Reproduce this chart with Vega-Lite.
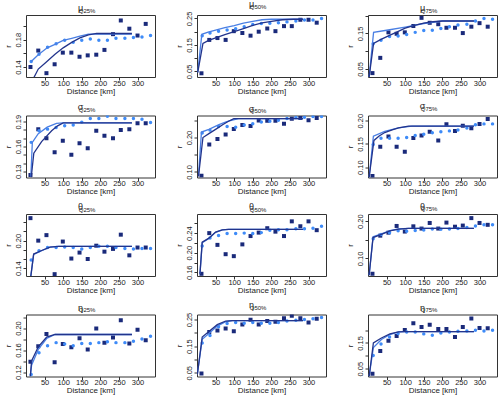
{
"$schema":"https://vega.github.io/schema/vega-lite/v6.json",
"background":"white",
"padding":{"left":3,"top":-1,"right":0,"bottom":0},
"columns":3,
"spacing":{"row":5.5,"column":18},
"config":{
 "font":"Liberation Sans",
 "view":{"stroke":"#333","strokeWidth":1},
 "axis":{"grid":false,"domain":false,"tickSize":3,"tickColor":"#333","labelFontSize":7.5,"labelColor":"#222","titleFontSize":8,"titleFontWeight":"normal","titleColor":"#222","labelPadding":1,"labelFlush":false,"labelOverlap":false},
 "axisX":{"titlePadding":0.5,"labelPadding":-1},
 "axisY":{"labelAngle":-90,"labelAlign":"center","labelBaseline":"bottom","minExtent":12,"maxExtent":12,"titlePadding":2},
 "title":{"font":"Liberation Sans","fontSize":9,"fontWeight":"normal","color":"#222","subtitleFont":"Liberation Sans","subtitleFontSize":6,"subtitleColor":"#222","subtitlePadding":-5.5,"offset":1.5,"anchor":"middle","align":"left","dx":-10,"frame":"group"}
},
"concat":[
{"width":129,"height":62,
"title":{"text":"μ","subtitle":"Q25%","encode":{"subtitle":{"update":{"dx":{"value":-3.4}}}}},
"data":{"values":[
{"k":"sq","d":12,"r":0.140},{"k":"sq","d":33,"r":0.164},{"k":"sq","d":55,"r":0.131},{"k":"sq","d":77,"r":0.144},{"k":"sq","d":99,"r":0.161},{"k":"sq","d":122,"r":0.161},{"k":"sq","d":144,"r":0.155},{"k":"sq","d":166,"r":0.157},{"k":"sq","d":189,"r":0.158},{"k":"sq","d":211,"r":0.165},{"k":"sq","d":234,"r":0.188},{"k":"sq","d":255,"r":0.208},{"k":"sq","d":278,"r":0.196},{"k":"sq","d":300,"r":0.186},{"k":"sq","d":322,"r":0.203},
{"k":"ci","d":14,"r":0.148},{"k":"ci","d":35,"r":0.1585},{"k":"ci","d":58,"r":0.169},{"k":"ci","d":81,"r":0.174},{"k":"ci","d":104,"r":0.179},{"k":"ci","d":127,"r":0.176},{"k":"ci","d":150,"r":0.179},{"k":"ci","d":173,"r":0.181},{"k":"ci","d":196,"r":0.179},{"k":"ci","d":219,"r":0.179},{"k":"ci","d":242,"r":0.182},{"k":"ci","d":266,"r":0.182},{"k":"ci","d":289,"r":0.183},{"k":"ci","d":312,"r":0.184},{"k":"ci","d":335,"r":0.186},
{"k":"lb","d":14,"r":0.148},{"k":"lb","d":33,"r":0.158},{"k":"lb","d":57,"r":0.168},{"k":"lb","d":78,"r":0.173},{"k":"lb","d":100,"r":0.179},{"k":"lb","d":123,"r":0.182},{"k":"lb","d":145,"r":0.185},{"k":"lb","d":168,"r":0.188},{"k":"lb","d":190,"r":0.188},{"k":"lb","d":285,"r":0.188},
{"k":"la","d":15,"r":0.118},{"k":"la","d":33,"r":0.137},{"k":"la","d":54,"r":0.147},{"k":"la","d":78,"r":0.1585},{"k":"la","d":100,"r":0.168},{"k":"la","d":123,"r":0.176},{"k":"la","d":145,"r":0.1825},{"k":"la","d":168,"r":0.187},{"k":"la","d":190,"r":0.189},{"k":"la","d":285,"r":0.189}
]},
"encoding":{"x":{"field":"d","type":"quantitative","scale":{"domain":[0,347],"nice":false},"axis":{"values":[50,100,150,200,250,300],"title":"Distance [km]"}},
"y":{"field":"r","type":"quantitative","scale":{"domain":[0.1254,0.216],"nice":false,"zero":false},"axis":{"values":[0.14,0.16,0.18,0.2],"format":".2f","labelExpr":"indexof([0.14,0.18],datum.value)>=0?datum.label:''","title":"r"}}},
"layer":[
{"transform":[{"filter":"datum.k=='sq'"}],"mark":{"type":"square","color":"#1A2A7A","size":16,"opacity":1,"clip":true}},
{"transform":[{"filter":"datum.k=='ci'"}],"mark":{"type":"circle","color":"#3E8BF8","size":12,"opacity":1,"clip":true}},
{"transform":[{"filter":"datum.k=='lb'"}],"mark":{"type":"line","color":"#4A7FE3","strokeWidth":1.3,"clip":true},"encoding":{}},
{"transform":[{"filter":"datum.k=='la'"}],"mark":{"type":"line","color":"#22348C","strokeWidth":1.3,"clip":true},"encoding":{}}
]},
{"width":129,"height":62,
"title":{"text":"μ","subtitle":"Q50%","encode":{"subtitle":{"update":{"dx":{"value":-3.4}}}}},
"data":{"values":[
{"k":"sq","d":12,"r":0.043},{"k":"sq","d":33,"r":0.169},{"k":"sq","d":55,"r":0.176},{"k":"sq","d":77,"r":0.169},{"k":"sq","d":99,"r":0.202},{"k":"sq","d":122,"r":0.195},{"k":"sq","d":144,"r":0.185},{"k":"sq","d":166,"r":0.2},{"k":"sq","d":189,"r":0.212},{"k":"sq","d":211,"r":0.202},{"k":"sq","d":234,"r":0.221},{"k":"sq","d":255,"r":0.221},{"k":"sq","d":278,"r":0.245},{"k":"sq","d":300,"r":0.245},{"k":"sq","d":322,"r":0.234},
{"k":"ci","d":14,"r":0.185},{"k":"ci","d":35,"r":0.195},{"k":"ci","d":58,"r":0.202},{"k":"ci","d":81,"r":0.206},{"k":"ci","d":104,"r":0.211},{"k":"ci","d":127,"r":0.219},{"k":"ci","d":150,"r":0.227},{"k":"ci","d":173,"r":0.231},{"k":"ci","d":196,"r":0.232},{"k":"ci","d":219,"r":0.234},{"k":"ci","d":242,"r":0.237},{"k":"ci","d":266,"r":0.24},{"k":"ci","d":289,"r":0.244},{"k":"ci","d":312,"r":0.244},{"k":"ci","d":335,"r":0.25},
{"k":"lb","d":2,"r":0.046},{"k":"lb","d":13,"r":0.19},{"k":"lb","d":30,"r":0.198},{"k":"lb","d":50,"r":0.206},{"k":"lb","d":75,"r":0.215},{"k":"lb","d":100,"r":0.223},{"k":"lb","d":125,"r":0.232},{"k":"lb","d":150,"r":0.239},{"k":"lb","d":175,"r":0.245},{"k":"lb","d":200,"r":0.247},{"k":"lb","d":285,"r":0.247},
{"k":"la","d":2,"r":0.046},{"k":"la","d":16,"r":0.156},{"k":"la","d":30,"r":0.166},{"k":"la","d":50,"r":0.177},{"k":"la","d":75,"r":0.189},{"k":"la","d":100,"r":0.2},{"k":"la","d":125,"r":0.212},{"k":"la","d":150,"r":0.224},{"k":"la","d":175,"r":0.233},{"k":"la","d":200,"r":0.239},{"k":"la","d":230,"r":0.245},{"k":"la","d":260,"r":0.247},{"k":"la","d":285,"r":0.247}
]},
"encoding":{"x":{"field":"d","type":"quantitative","scale":{"domain":[0,347],"nice":false},"axis":{"values":[50,100,150,200,250,300],"title":"Distance [km]"}},
"y":{"field":"r","type":"quantitative","scale":{"domain":[0.029,0.263],"nice":false,"zero":false},"axis":{"values":[0.05,0.1,0.15,0.2,0.25],"format":".2f","labelExpr":"indexof([0.05,0.15,0.25],datum.value)>=0?datum.label:''","title":"r"}}},
"layer":[
{"transform":[{"filter":"datum.k=='sq'"}],"mark":{"type":"square","color":"#1A2A7A","size":16,"opacity":1,"clip":true}},
{"transform":[{"filter":"datum.k=='ci'"}],"mark":{"type":"circle","color":"#3E8BF8","size":12,"opacity":1,"clip":true}},
{"transform":[{"filter":"datum.k=='lb'"}],"mark":{"type":"line","color":"#4A7FE3","strokeWidth":1.3,"clip":true},"encoding":{}},
{"transform":[{"filter":"datum.k=='la'"}],"mark":{"type":"line","color":"#22348C","strokeWidth":1.3,"clip":true},"encoding":{}}
]},
{"width":129,"height":62,
"title":{"text":"μ","subtitle":"Q75%","encode":{"subtitle":{"update":{"dx":{"value":-3.4}}}}},
"data":{"values":[
{"k":"sq","d":12,"r":0.038},{"k":"sq","d":33,"r":0.081},{"k":"sq","d":55,"r":0.153},{"k":"sq","d":77,"r":0.149},{"k":"sq","d":99,"r":0.153},{"k":"sq","d":122,"r":0.171},{"k":"sq","d":144,"r":0.194},{"k":"sq","d":166,"r":0.18},{"k":"sq","d":189,"r":0.176},{"k":"sq","d":211,"r":0.166},{"k":"sq","d":234,"r":0.166},{"k":"sq","d":255,"r":0.151},{"k":"sq","d":278,"r":0.169},{"k":"sq","d":300,"r":0.179},{"k":"sq","d":322,"r":0.169},
{"k":"ci","d":14,"r":0.121},{"k":"ci","d":35,"r":0.131},{"k":"ci","d":58,"r":0.141},{"k":"ci","d":81,"r":0.143},{"k":"ci","d":104,"r":0.147},{"k":"ci","d":127,"r":0.153},{"k":"ci","d":150,"r":0.158},{"k":"ci","d":173,"r":0.159},{"k":"ci","d":196,"r":0.164},{"k":"ci","d":219,"r":0.169},{"k":"ci","d":242,"r":0.174},{"k":"ci","d":266,"r":0.176},{"k":"ci","d":289,"r":0.185},{"k":"ci","d":312,"r":0.192},{"k":"ci","d":335,"r":0.19},
{"k":"lb","d":3,"r":0.027},{"k":"lb","d":15,"r":0.153},{"k":"lb","d":50,"r":0.159},{"k":"lb","d":100,"r":0.168},{"k":"lb","d":150,"r":0.178},{"k":"lb","d":200,"r":0.185},{"k":"lb","d":285,"r":0.185},
{"k":"la","d":3,"r":0.027},{"k":"la","d":15,"r":0.122},{"k":"la","d":35,"r":0.133},{"k":"la","d":55,"r":0.143},{"k":"la","d":80,"r":0.155},{"k":"la","d":100,"r":0.165},{"k":"la","d":125,"r":0.173},{"k":"la","d":150,"r":0.179},{"k":"la","d":175,"r":0.183},{"k":"la","d":200,"r":0.185},{"k":"la","d":285,"r":0.185}
]},
"encoding":{"x":{"field":"d","type":"quantitative","scale":{"domain":[0,347],"nice":false},"axis":{"values":[50,100,150,200,250,300],"title":"Distance [km]"}},
"y":{"field":"r","type":"quantitative","scale":{"domain":[0.027,0.202],"nice":false,"zero":false},"axis":{"values":[0.05,0.1,0.15,0.2],"format":".2f","labelExpr":"indexof([0.05,0.15],datum.value)>=0?datum.label:''","title":"r"}}},
"layer":[
{"transform":[{"filter":"datum.k=='sq'"}],"mark":{"type":"square","color":"#1A2A7A","size":16,"opacity":1,"clip":true}},
{"transform":[{"filter":"datum.k=='ci'"}],"mark":{"type":"circle","color":"#3E8BF8","size":12,"opacity":1,"clip":true}},
{"transform":[{"filter":"datum.k=='lb'"}],"mark":{"type":"line","color":"#4A7FE3","strokeWidth":1.3,"clip":true},"encoding":{}},
{"transform":[{"filter":"datum.k=='la'"}],"mark":{"type":"line","color":"#22348C","strokeWidth":1.3,"clip":true},"encoding":{}}
]},
{"width":129,"height":62,
"title":{"text":"σ","subtitle":"Q25%","encode":{"subtitle":{"update":{"dx":{"value":-3.4}}}}},
"data":{"values":[
{"k":"sq","d":12,"r":0.1256},{"k":"sq","d":33,"r":0.181},{"k":"sq","d":55,"r":0.170},{"k":"sq","d":77,"r":0.153},{"k":"sq","d":99,"r":0.167},{"k":"sq","d":122,"r":0.150},{"k":"sq","d":144,"r":0.164},{"k":"sq","d":166,"r":0.158},{"k":"sq","d":189,"r":0.179},{"k":"sq","d":211,"r":0.173},{"k":"sq","d":234,"r":0.170},{"k":"sq","d":255,"r":0.180},{"k":"sq","d":278,"r":0.181},{"k":"sq","d":300,"r":0.188},{"k":"sq","d":322,"r":0.188},
{"k":"ci","d":14,"r":0.165},{"k":"ci","d":35,"r":0.179},{"k":"ci","d":58,"r":0.181},{"k":"ci","d":81,"r":0.183},{"k":"ci","d":104,"r":0.185},{"k":"ci","d":127,"r":0.186},{"k":"ci","d":150,"r":0.1895},{"k":"ci","d":173,"r":0.194},{"k":"ci","d":196,"r":0.194},{"k":"ci","d":219,"r":0.1965},{"k":"ci","d":242,"r":0.194},{"k":"ci","d":266,"r":0.194},{"k":"ci","d":289,"r":0.194},{"k":"ci","d":312,"r":0.193},{"k":"ci","d":335,"r":0.189},
{"k":"lb","d":13,"r":0.1235},{"k":"lb","d":17,"r":0.165},{"k":"lb","d":33,"r":0.1755},{"k":"lb","d":57,"r":0.1834},{"k":"lb","d":82,"r":0.188},{"k":"lb","d":100,"r":0.1886},{"k":"lb","d":285,"r":0.1886},
{"k":"la","d":14,"r":0.1225},{"k":"la","d":21,"r":0.152},{"k":"la","d":42,"r":0.166},{"k":"la","d":69,"r":0.179},{"k":"la","d":85,"r":0.185},{"k":"la","d":100,"r":0.1886},{"k":"la","d":285,"r":0.1886}
]},
"encoding":{"x":{"field":"d","type":"quantitative","scale":{"domain":[0,347],"nice":false},"axis":{"values":[50,100,150,200,250,300],"title":"Distance [km]"}},
"y":{"field":"r","type":"quantitative","scale":{"domain":[0.1225,0.1975],"nice":false,"zero":false},"axis":{"values":[0.13,0.14,0.15,0.16,0.17,0.18,0.19],"format":".2f","labelExpr":"indexof([0.13,0.16,0.19],datum.value)>=0?datum.label:''","title":"r"}}},
"layer":[
{"transform":[{"filter":"datum.k=='sq'"}],"mark":{"type":"square","color":"#1A2A7A","size":16,"opacity":1,"clip":true}},
{"transform":[{"filter":"datum.k=='ci'"}],"mark":{"type":"circle","color":"#3E8BF8","size":12,"opacity":1,"clip":true}},
{"transform":[{"filter":"datum.k=='lb'"}],"mark":{"type":"line","color":"#4A7FE3","strokeWidth":1.3,"clip":true},"encoding":{}},
{"transform":[{"filter":"datum.k=='la'"}],"mark":{"type":"line","color":"#22348C","strokeWidth":1.3,"clip":true},"encoding":{}}
]},
{"width":129,"height":62,
"title":{"text":"σ","subtitle":"Q50%","encode":{"subtitle":{"update":{"dx":{"value":-3.4}}}}},
"data":{"values":[
{"k":"sq","d":12,"r":0.0892},{"k":"sq","d":33,"r":0.1796},{"k":"sq","d":55,"r":0.1957},{"k":"sq","d":77,"r":0.2086},{"k":"sq","d":99,"r":0.2247},{"k":"sq","d":122,"r":0.2366},{"k":"sq","d":144,"r":0.2333},{"k":"sq","d":166,"r":0.2495},{"k":"sq","d":189,"r":0.2484},{"k":"sq","d":211,"r":0.2484},{"k":"sq","d":234,"r":0.2398},{"k":"sq","d":255,"r":0.2548},{"k":"sq","d":278,"r":0.257},{"k":"sq","d":300,"r":0.2505},{"k":"sq","d":322,"r":0.257},
{"k":"ci","d":14,"r":0.213},{"k":"ci","d":35,"r":0.2215},{"k":"ci","d":58,"r":0.232},{"k":"ci","d":81,"r":0.232},{"k":"ci","d":104,"r":0.230},{"k":"ci","d":127,"r":0.2366},{"k":"ci","d":150,"r":0.24},{"k":"ci","d":173,"r":0.245},{"k":"ci","d":196,"r":0.2473},{"k":"ci","d":219,"r":0.2505},{"k":"ci","d":242,"r":0.255},{"k":"ci","d":266,"r":0.258},{"k":"ci","d":289,"r":0.259},{"k":"ci","d":312,"r":0.261},{"k":"ci","d":335,"r":0.261},
{"k":"lb","d":4,"r":0.089},{"k":"lb","d":12,"r":0.216},{"k":"lb","d":32,"r":0.2237},{"k":"lb","d":59,"r":0.2376},{"k":"lb","d":80,"r":0.246},{"k":"lb","d":95,"r":0.2505},{"k":"lb","d":112,"r":0.2548},{"k":"lb","d":285,"r":0.2548},
{"k":"la","d":4,"r":0.087},{"k":"la","d":16,"r":0.2},{"k":"la","d":33,"r":0.212},{"k":"la","d":50,"r":0.2237},{"k":"la","d":70,"r":0.238},{"k":"la","d":86,"r":0.248},{"k":"la","d":99,"r":0.2548},{"k":"la","d":285,"r":0.2548}
]},
"encoding":{"x":{"field":"d","type":"quantitative","scale":{"domain":[0,347],"nice":false},"axis":{"values":[50,100,150,200,250,300],"title":"Distance [km]"}},
"y":{"field":"r","type":"quantitative","scale":{"domain":[0.084,0.264],"nice":false,"zero":false},"axis":{"values":[0.1,0.15,0.2,0.25],"format":".2f","labelExpr":"indexof([0.1,0.2],datum.value)>=0?datum.label:''","title":"r"}}},
"layer":[
{"transform":[{"filter":"datum.k=='sq'"}],"mark":{"type":"square","color":"#1A2A7A","size":16,"opacity":1,"clip":true}},
{"transform":[{"filter":"datum.k=='ci'"}],"mark":{"type":"circle","color":"#3E8BF8","size":12,"opacity":1,"clip":true}},
{"transform":[{"filter":"datum.k=='lb'"}],"mark":{"type":"line","color":"#4A7FE3","strokeWidth":1.3,"clip":true},"encoding":{}},
{"transform":[{"filter":"datum.k=='la'"}],"mark":{"type":"line","color":"#22348C","strokeWidth":1.3,"clip":true},"encoding":{}}
]},
{"width":129,"height":62,
"title":{"text":"σ","subtitle":"Q75%","encode":{"subtitle":{"update":{"dx":{"value":-3.4}}}}},
"data":{"values":[
{"k":"sq","d":12,"r":0.0813},{"k":"sq","d":33,"r":0.1439},{"k":"sq","d":55,"r":0.166},{"k":"sq","d":77,"r":0.1439},{"k":"sq","d":99,"r":0.1332},{"k":"sq","d":122,"r":0.163},{"k":"sq","d":144,"r":0.1683},{"k":"sq","d":166,"r":0.176},{"k":"sq","d":189,"r":0.1576},{"k":"sq","d":211,"r":0.192},{"k":"sq","d":234,"r":0.178},{"k":"sq","d":255,"r":0.189},{"k":"sq","d":278,"r":0.1836},{"k":"sq","d":300,"r":0.1927},{"k":"sq","d":322,"r":0.2034},
{"k":"ci","d":14,"r":0.149},{"k":"ci","d":35,"r":0.162},{"k":"ci","d":58,"r":0.162},{"k":"ci","d":81,"r":0.162},{"k":"ci","d":104,"r":0.164},{"k":"ci","d":127,"r":0.168},{"k":"ci","d":150,"r":0.171},{"k":"ci","d":173,"r":0.174},{"k":"ci","d":196,"r":0.176},{"k":"ci","d":219,"r":0.178},{"k":"ci","d":242,"r":0.18},{"k":"ci","d":266,"r":0.184},{"k":"ci","d":289,"r":0.191},{"k":"ci","d":312,"r":0.193},{"k":"ci","d":335,"r":0.193},
{"k":"lb","d":3,"r":0.078},{"k":"lb","d":14.5,"r":0.1668},{"k":"lb","d":45,"r":0.1767},{"k":"lb","d":82,"r":0.1844},{"k":"lb","d":118,"r":0.1882},{"k":"lb","d":285,"r":0.1882},
{"k":"la","d":3,"r":0.078},{"k":"la","d":16,"r":0.1576},{"k":"la","d":30,"r":0.167},{"k":"la","d":45,"r":0.1744},{"k":"la","d":65,"r":0.18},{"k":"la","d":82,"r":0.1844},{"k":"la","d":109,"r":0.1882},{"k":"la","d":285,"r":0.1882}
]},
"encoding":{"x":{"field":"d","type":"quantitative","scale":{"domain":[0,347],"nice":false},"axis":{"values":[50,100,150,200,250,300],"title":"Distance [km]"}},
"y":{"field":"r","type":"quantitative","scale":{"domain":[0.078,0.211],"nice":false,"zero":false},"axis":{"values":[0.1,0.15,0.2],"format":".2f","title":"r"}}},
"layer":[
{"transform":[{"filter":"datum.k=='sq'"}],"mark":{"type":"square","color":"#1A2A7A","size":16,"opacity":1,"clip":true}},
{"transform":[{"filter":"datum.k=='ci'"}],"mark":{"type":"circle","color":"#3E8BF8","size":12,"opacity":1,"clip":true}},
{"transform":[{"filter":"datum.k=='lb'"}],"mark":{"type":"line","color":"#4A7FE3","strokeWidth":1.3,"clip":true},"encoding":{}},
{"transform":[{"filter":"datum.k=='la'"}],"mark":{"type":"line","color":"#22348C","strokeWidth":1.3,"clip":true},"encoding":{}}
]},
{"width":129,"height":62,
"title":{"text":"θ","subtitle":"Q25%","encode":{"subtitle":{"update":{"dx":{"value":-3.4}}}}},
"data":{"values":[
{"k":"sq","d":12,"r":0.249},{"k":"sq","d":33,"r":0.2},{"k":"sq","d":55,"r":0.212},{"k":"sq","d":77,"r":0.127},{"k":"sq","d":99,"r":0.198},{"k":"sq","d":122,"r":0.161},{"k":"sq","d":144,"r":0.174},{"k":"sq","d":166,"r":0.16},{"k":"sq","d":189,"r":0.189},{"k":"sq","d":211,"r":0.176},{"k":"sq","d":234,"r":0.182},{"k":"sq","d":255,"r":0.213},{"k":"sq","d":278,"r":0.168},{"k":"sq","d":300,"r":0.185},{"k":"sq","d":322,"r":0.185},
{"k":"ci","d":14,"r":0.158},{"k":"ci","d":35,"r":0.178},{"k":"ci","d":58,"r":0.185},{"k":"ci","d":81,"r":0.185},{"k":"ci","d":104,"r":0.186},{"k":"ci","d":127,"r":0.185},{"k":"ci","d":150,"r":0.182},{"k":"ci","d":173,"r":0.185},{"k":"ci","d":196,"r":0.188},{"k":"ci","d":219,"r":0.188},{"k":"ci","d":242,"r":0.185},{"k":"ci","d":266,"r":0.183},{"k":"ci","d":289,"r":0.182},{"k":"ci","d":312,"r":0.183},{"k":"ci","d":335,"r":0.183},
{"k":"lb","d":13,"r":0.123},{"k":"lb","d":20.6,"r":0.17},{"k":"lb","d":42,"r":0.178},{"k":"lb","d":64.5,"r":0.1858},{"k":"lb","d":87,"r":0.1877},{"k":"lb","d":285,"r":0.1877},
{"k":"la","d":13,"r":0.123},{"k":"la","d":20.6,"r":0.1708},{"k":"la","d":42,"r":0.1785},{"k":"la","d":64.5,"r":0.186},{"k":"la","d":87,"r":0.1877},{"k":"la","d":285,"r":0.1877}
]},
"encoding":{"x":{"field":"d","type":"quantitative","scale":{"domain":[0,347],"nice":false},"axis":{"values":[50,100,150,200,250,300],"title":"Distance [km]"}},
"y":{"field":"r","type":"quantitative","scale":{"domain":[0.123,0.258],"nice":false,"zero":false},"axis":{"values":[0.14,0.16,0.18,0.2,0.22,0.24],"format":".2f","labelExpr":"indexof([0.14,0.2],datum.value)>=0?datum.label:''","title":"r"}}},
"layer":[
{"transform":[{"filter":"datum.k=='sq'"}],"mark":{"type":"square","color":"#1A2A7A","size":16,"opacity":1,"clip":true}},
{"transform":[{"filter":"datum.k=='ci'"}],"mark":{"type":"circle","color":"#3E8BF8","size":12,"opacity":1,"clip":true}},
{"transform":[{"filter":"datum.k=='lb'"}],"mark":{"type":"line","color":"#4A7FE3","strokeWidth":1.3,"clip":true},"encoding":{}},
{"transform":[{"filter":"datum.k=='la'"}],"mark":{"type":"line","color":"#22348C","strokeWidth":1.3,"clip":true},"encoding":{}}
]},
{"width":129,"height":62,
"title":{"text":"θ","subtitle":"Q50%","encode":{"subtitle":{"update":{"dx":{"value":-3.4}}}}},
"data":{"values":[
{"k":"sq","d":12,"r":0.157},{"k":"sq","d":33,"r":0.24},{"k":"sq","d":55,"r":0.216},{"k":"sq","d":77,"r":0.197},{"k":"sq","d":99,"r":0.193},{"k":"sq","d":122,"r":0.217},{"k":"sq","d":144,"r":0.234},{"k":"sq","d":166,"r":0.241},{"k":"sq","d":189,"r":0.25},{"k":"sq","d":211,"r":0.243},{"k":"sq","d":234,"r":0.234},{"k":"sq","d":255,"r":0.264},{"k":"sq","d":278,"r":0.254},{"k":"sq","d":300,"r":0.264},{"k":"sq","d":322,"r":0.246},
{"k":"ci","d":14,"r":0.2136},{"k":"ci","d":35,"r":0.23},{"k":"ci","d":58,"r":0.235},{"k":"ci","d":81,"r":0.239},{"k":"ci","d":104,"r":0.239},{"k":"ci","d":127,"r":0.24},{"k":"ci","d":150,"r":0.239},{"k":"ci","d":173,"r":0.241},{"k":"ci","d":196,"r":0.246},{"k":"ci","d":219,"r":0.247},{"k":"ci","d":242,"r":0.247},{"k":"ci","d":266,"r":0.249},{"k":"ci","d":289,"r":0.249},{"k":"ci","d":312,"r":0.25},{"k":"ci","d":335,"r":0.254},
{"k":"lb","d":8,"r":0.157},{"k":"lb","d":14,"r":0.2205},{"k":"lb","d":32,"r":0.229},{"k":"lb","d":50,"r":0.2415},{"k":"lb","d":68,"r":0.2466},{"k":"lb","d":85,"r":0.2475},{"k":"lb","d":285,"r":0.2475},
{"k":"la","d":8,"r":0.157},{"k":"la","d":14,"r":0.2217},{"k":"la","d":32,"r":0.2298},{"k":"la","d":50,"r":0.242},{"k":"la","d":68,"r":0.2468},{"k":"la","d":85,"r":0.2475},{"k":"la","d":285,"r":0.2475}
]},
"encoding":{"x":{"field":"d","type":"quantitative","scale":{"domain":[0,347],"nice":false},"axis":{"values":[50,100,150,200,250,300],"title":"Distance [km]"}},
"y":{"field":"r","type":"quantitative","scale":{"domain":[0.1525,0.279],"nice":false,"zero":false},"axis":{"values":[0.16,0.18,0.2,0.22,0.24,0.26],"format":".2f","labelExpr":"indexof([0.16,0.2,0.24],datum.value)>=0?datum.label:''","title":"r"}}},
"layer":[
{"transform":[{"filter":"datum.k=='sq'"}],"mark":{"type":"square","color":"#1A2A7A","size":16,"opacity":1,"clip":true}},
{"transform":[{"filter":"datum.k=='ci'"}],"mark":{"type":"circle","color":"#3E8BF8","size":12,"opacity":1,"clip":true}},
{"transform":[{"filter":"datum.k=='lb'"}],"mark":{"type":"line","color":"#4A7FE3","strokeWidth":1.3,"clip":true},"encoding":{}},
{"transform":[{"filter":"datum.k=='la'"}],"mark":{"type":"line","color":"#22348C","strokeWidth":1.3,"clip":true},"encoding":{}}
]},
{"width":129,"height":62,
"title":{"text":"θ","subtitle":"Q75%","encode":{"subtitle":{"update":{"dx":{"value":-3.4}}}}},
"data":{"values":[
{"k":"sq","d":12,"r":0.059},{"k":"sq","d":33,"r":0.161},{"k":"sq","d":55,"r":0.169},{"k":"sq","d":77,"r":0.187},{"k":"sq","d":99,"r":0.172},{"k":"sq","d":122,"r":0.186},{"k":"sq","d":144,"r":0.18},{"k":"sq","d":166,"r":0.195},{"k":"sq","d":189,"r":0.18},{"k":"sq","d":211,"r":0.196},{"k":"sq","d":234,"r":0.185},{"k":"sq","d":255,"r":0.188},{"k":"sq","d":278,"r":0.208},{"k":"sq","d":300,"r":0.195},{"k":"sq","d":322,"r":0.19},
{"k":"ci","d":14,"r":0.153},{"k":"ci","d":35,"r":0.164},{"k":"ci","d":58,"r":0.169},{"k":"ci","d":81,"r":0.174},{"k":"ci","d":104,"r":0.173},{"k":"ci","d":127,"r":0.175},{"k":"ci","d":150,"r":0.176},{"k":"ci","d":173,"r":0.179},{"k":"ci","d":196,"r":0.178},{"k":"ci","d":219,"r":0.179},{"k":"ci","d":242,"r":0.18},{"k":"ci","d":266,"r":0.183},{"k":"ci","d":289,"r":0.187},{"k":"ci","d":312,"r":0.19},{"k":"ci","d":335,"r":0.19},
{"k":"lb","d":3,"r":0.055},{"k":"lb","d":13.6,"r":0.158},{"k":"lb","d":36,"r":0.166},{"k":"lb","d":59,"r":0.1745},{"k":"lb","d":82,"r":0.1788},{"k":"lb","d":109,"r":0.1804},{"k":"lb","d":285,"r":0.1804},
{"k":"la","d":3,"r":0.055},{"k":"la","d":13.6,"r":0.156},{"k":"la","d":36,"r":0.1645},{"k":"la","d":59,"r":0.1738},{"k":"la","d":82,"r":0.1785},{"k":"la","d":109,"r":0.1804},{"k":"la","d":285,"r":0.1804}
]},
"encoding":{"x":{"field":"d","type":"quantitative","scale":{"domain":[0,347],"nice":false},"axis":{"values":[50,100,150,200,250,300],"title":"Distance [km]"}},
"y":{"field":"r","type":"quantitative","scale":{"domain":[0.053,0.219],"nice":false,"zero":false},"axis":{"values":[0.1,0.15,0.2],"format":".2f","labelExpr":"indexof([0.1,0.2],datum.value)>=0?datum.label:''","title":"r"}}},
"layer":[
{"transform":[{"filter":"datum.k=='sq'"}],"mark":{"type":"square","color":"#1A2A7A","size":16,"opacity":1,"clip":true}},
{"transform":[{"filter":"datum.k=='ci'"}],"mark":{"type":"circle","color":"#3E8BF8","size":12,"opacity":1,"clip":true}},
{"transform":[{"filter":"datum.k=='lb'"}],"mark":{"type":"line","color":"#4A7FE3","strokeWidth":1.3,"clip":true},"encoding":{}},
{"transform":[{"filter":"datum.k=='la'"}],"mark":{"type":"line","color":"#22348C","strokeWidth":1.3,"clip":true},"encoding":{}}
]},
{"width":129,"height":62,
"title":{"text":"η","subtitle":"Q25%","encode":{"subtitle":{"update":{"dx":{"value":-3.4}}}}},
"data":{"values":[
{"k":"sq","d":12,"r":0.139},{"k":"sq","d":33,"r":0.167},{"k":"sq","d":55,"r":0.189},{"k":"sq","d":77,"r":0.138},{"k":"sq","d":99,"r":0.171},{"k":"sq","d":122,"r":0.165},{"k":"sq","d":144,"r":0.1815},{"k":"sq","d":166,"r":0.161},{"k":"sq","d":189,"r":0.199},{"k":"sq","d":211,"r":0.1735},{"k":"sq","d":234,"r":0.183},{"k":"sq","d":255,"r":0.214},{"k":"sq","d":278,"r":0.172},{"k":"sq","d":300,"r":0.197},{"k":"sq","d":322,"r":0.178},
{"k":"ci","d":14,"r":0.1157},{"k":"ci","d":35,"r":0.155},{"k":"ci","d":58,"r":0.168},{"k":"ci","d":81,"r":0.1735},{"k":"ci","d":104,"r":0.171},{"k":"ci","d":127,"r":0.168},{"k":"ci","d":150,"r":0.172},{"k":"ci","d":173,"r":0.172},{"k":"ci","d":196,"r":0.1735},{"k":"ci","d":219,"r":0.175},{"k":"ci","d":242,"r":0.1735},{"k":"ci","d":266,"r":0.1735},{"k":"ci","d":289,"r":0.176},{"k":"ci","d":312,"r":0.18},{"k":"ci","d":335,"r":0.185},
{"k":"lb","d":11.6,"r":0.112},{"k":"lb","d":15,"r":0.1323},{"k":"lb","d":33,"r":0.1612},{"k":"lb","d":55.5,"r":0.181},{"k":"lb","d":78,"r":0.1883},{"k":"lb","d":285,"r":0.1883},
{"k":"la","d":11.6,"r":0.112},{"k":"la","d":15,"r":0.1403},{"k":"la","d":33,"r":0.166},{"k":"la","d":55.5,"r":0.1834},{"k":"la","d":78,"r":0.1883},{"k":"la","d":285,"r":0.1883}
]},
"encoding":{"x":{"field":"d","type":"quantitative","scale":{"domain":[0,347],"nice":false},"axis":{"values":[50,100,150,200,250,300],"title":"Distance [km]"}},
"y":{"field":"r","type":"quantitative","scale":{"domain":[0.112,0.2246],"nice":false,"zero":false},"axis":{"values":[0.12,0.14,0.16,0.18,0.2,0.22],"format":".2f","labelExpr":"indexof([0.12,0.16,0.2],datum.value)>=0?datum.label:''","title":"r"}}},
"layer":[
{"transform":[{"filter":"datum.k=='sq'"}],"mark":{"type":"square","color":"#1A2A7A","size":16,"opacity":1,"clip":true}},
{"transform":[{"filter":"datum.k=='ci'"}],"mark":{"type":"circle","color":"#3E8BF8","size":12,"opacity":1,"clip":true}},
{"transform":[{"filter":"datum.k=='lb'"}],"mark":{"type":"line","color":"#4A7FE3","strokeWidth":1.3,"clip":true},"encoding":{}},
{"transform":[{"filter":"datum.k=='la'"}],"mark":{"type":"line","color":"#22348C","strokeWidth":1.3,"clip":true},"encoding":{}}
]},
{"width":129,"height":62,
"title":{"text":"η","subtitle":"Q50%","encode":{"subtitle":{"update":{"dx":{"value":-3.4}}}}},
"data":{"values":[
{"k":"sq","d":12,"r":0.047},{"k":"sq","d":33,"r":0.203},{"k":"sq","d":55,"r":0.209},{"k":"sq","d":77,"r":0.216},{"k":"sq","d":99,"r":0.206},{"k":"sq","d":122,"r":0.231},{"k":"sq","d":144,"r":0.249},{"k":"sq","d":166,"r":0.231},{"k":"sq","d":189,"r":0.245},{"k":"sq","d":211,"r":0.242},{"k":"sq","d":234,"r":0.255},{"k":"sq","d":255,"r":0.264},{"k":"sq","d":278,"r":0.255},{"k":"sq","d":300,"r":0.239},{"k":"sq","d":322,"r":0.253},
{"k":"ci","d":14,"r":0.162},{"k":"ci","d":35,"r":0.19},{"k":"ci","d":58,"r":0.223},{"k":"ci","d":81,"r":0.235},{"k":"ci","d":104,"r":0.239},{"k":"ci","d":127,"r":0.236},{"k":"ci","d":150,"r":0.239},{"k":"ci","d":173,"r":0.236},{"k":"ci","d":196,"r":0.236},{"k":"ci","d":219,"r":0.239},{"k":"ci","d":242,"r":0.2445},{"k":"ci","d":266,"r":0.247},{"k":"ci","d":289,"r":0.25},{"k":"ci","d":312,"r":0.253},{"k":"ci","d":335,"r":0.258},
{"k":"lb","d":1,"r":0.0445},{"k":"lb","d":14,"r":0.176},{"k":"lb","d":32,"r":0.198},{"k":"lb","d":54.5,"r":0.2253},{"k":"lb","d":77,"r":0.2418},{"k":"lb","d":95,"r":0.246},{"k":"lb","d":285,"r":0.246},
{"k":"la","d":1,"r":0.0445},{"k":"la","d":14,"r":0.184},{"k":"la","d":32,"r":0.2048},{"k":"la","d":54.5,"r":0.2308},{"k":"la","d":77,"r":0.2445},{"k":"la","d":95,"r":0.246},{"k":"la","d":285,"r":0.246}
]},
"encoding":{"x":{"field":"d","type":"quantitative","scale":{"domain":[0,347],"nice":false},"axis":{"values":[50,100,150,200,250,300],"title":"Distance [km]"}},
"y":{"field":"r","type":"quantitative","scale":{"domain":[0.036,0.269],"nice":false,"zero":false},"axis":{"values":[0.05,0.1,0.15,0.2,0.25],"format":".2f","labelExpr":"indexof([0.05,0.15,0.25],datum.value)>=0?datum.label:''","title":"r"}}},
"layer":[
{"transform":[{"filter":"datum.k=='sq'"}],"mark":{"type":"square","color":"#1A2A7A","size":16,"opacity":1,"clip":true}},
{"transform":[{"filter":"datum.k=='ci'"}],"mark":{"type":"circle","color":"#3E8BF8","size":12,"opacity":1,"clip":true}},
{"transform":[{"filter":"datum.k=='lb'"}],"mark":{"type":"line","color":"#4A7FE3","strokeWidth":1.3,"clip":true},"encoding":{}},
{"transform":[{"filter":"datum.k=='la'"}],"mark":{"type":"line","color":"#22348C","strokeWidth":1.3,"clip":true},"encoding":{}}
]},
{"width":129,"height":62,
"title":{"text":"η","subtitle":"Q75%","encode":{"subtitle":{"update":{"dx":{"value":-3.4}}}}},
"data":{"values":[
{"k":"sq","d":12,"r":0.031},{"k":"sq","d":33,"r":0.119},{"k":"sq","d":55,"r":0.158},{"k":"sq","d":77,"r":0.177},{"k":"sq","d":99,"r":0.2},{"k":"sq","d":122,"r":0.226},{"k":"sq","d":144,"r":0.212},{"k":"sq","d":166,"r":0.22},{"k":"sq","d":189,"r":0.204},{"k":"sq","d":211,"r":0.204},{"k":"sq","d":234,"r":0.173},{"k":"sq","d":255,"r":0.212},{"k":"sq","d":278,"r":0.245},{"k":"sq","d":300,"r":0.208},{"k":"sq","d":322,"r":0.207},
{"k":"ci","d":14,"r":0.101},{"k":"ci","d":35,"r":0.146},{"k":"ci","d":58,"r":0.173},{"k":"ci","d":81,"r":0.186},{"k":"ci","d":104,"r":0.192},{"k":"ci","d":127,"r":0.192},{"k":"ci","d":150,"r":0.185},{"k":"ci","d":173,"r":0.18},{"k":"ci","d":196,"r":0.188},{"k":"ci","d":219,"r":0.192},{"k":"ci","d":242,"r":0.195},{"k":"ci","d":266,"r":0.196},{"k":"ci","d":289,"r":0.199},{"k":"ci","d":312,"r":0.196},{"k":"ci","d":335,"r":0.199},
{"k":"lb","d":3,"r":0.02},{"k":"lb","d":14.5,"r":0.1324},{"k":"lb","d":36,"r":0.1635},{"k":"lb","d":59,"r":0.1824},{"k":"lb","d":82,"r":0.193},{"k":"lb","d":100,"r":0.194},{"k":"lb","d":285,"r":0.194},
{"k":"la","d":3,"r":0.02},{"k":"la","d":14.5,"r":0.15},{"k":"la","d":36,"r":0.169},{"k":"la","d":59,"r":0.185},{"k":"la","d":82,"r":0.193},{"k":"la","d":100,"r":0.194},{"k":"la","d":285,"r":0.194}
]},
"encoding":{"x":{"field":"d","type":"quantitative","scale":{"domain":[0,347],"nice":false},"axis":{"values":[50,100,150,200,250,300],"title":"Distance [km]"}},
"y":{"field":"r","type":"quantitative","scale":{"domain":[0.02,0.26],"nice":false,"zero":false},"axis":{"values":[0.05,0.1,0.15,0.2],"format":".2f","labelExpr":"indexof([0.05,0.15],datum.value)>=0?datum.label:''","title":"r"}}},
"layer":[
{"transform":[{"filter":"datum.k=='sq'"}],"mark":{"type":"square","color":"#1A2A7A","size":16,"opacity":1,"clip":true}},
{"transform":[{"filter":"datum.k=='ci'"}],"mark":{"type":"circle","color":"#3E8BF8","size":12,"opacity":1,"clip":true}},
{"transform":[{"filter":"datum.k=='lb'"}],"mark":{"type":"line","color":"#4A7FE3","strokeWidth":1.3,"clip":true},"encoding":{}},
{"transform":[{"filter":"datum.k=='la'"}],"mark":{"type":"line","color":"#22348C","strokeWidth":1.3,"clip":true},"encoding":{}}
]}
]
}
